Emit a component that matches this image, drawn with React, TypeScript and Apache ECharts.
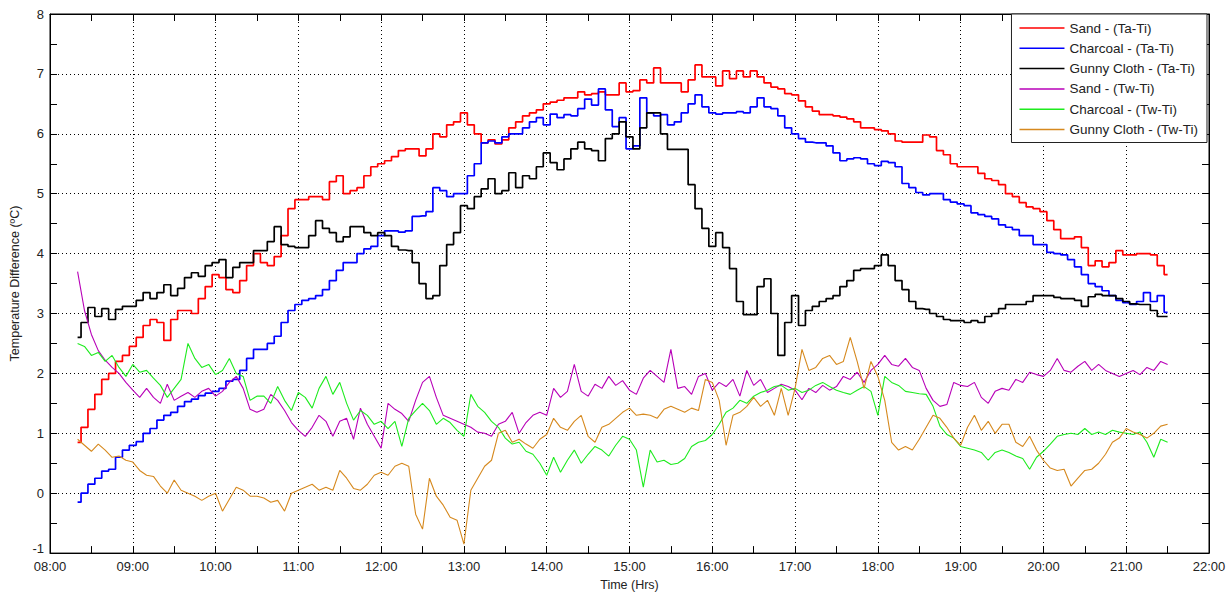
import React, { useEffect, useRef } from "react";
import * as echarts from "echarts";

// Sampling: first reading at 08:20 (minute 500 of the day), one value every 5 minutes, until 21:30
const sampleStartMin = 500;
const sampleStepMin = 5;

const seriesNames = [
  "Sand - (Ta-Ti)",
  "Charcoal - (Ta-Ti)",
  "Gunny Cloth - (Ta-Ti)",
  "Sand - (Tw-Ti)",
  "Charcoal - (Tw-Ti)",
  "Gunny Cloth - (Tw-Ti)",
];

const sandTa = [
  0.85, 1.1, 1.4, 1.65, 1.9, 2.0, 2.2, 2.3, 2.45, 2.6, 2.8, 2.9, 2.85, 2.55, 2.9, 3.05, 3.05, 3.0, 3.25, 3.45, 3.65, 3.6, 3.4, 3.35, 3.55, 3.8, 4.0,
  3.85, 3.8, 3.95, 4.3, 4.75, 4.9, 4.9, 4.95, 4.95, 4.9, 5.2, 5.3, 5.0, 5.05, 5.1, 5.3, 5.45, 5.5, 5.55, 5.62, 5.72, 5.75, 5.75, 5.63, 5.75, 6.0, 5.95, 6.15,
  6.2, 6.35, 6.15, 6.0, 5.85, 5.9, 5.83, 5.9, 6.1, 6.2, 6.3, 6.35, 6.4, 6.5, 6.53, 6.56, 6.6, 6.6, 6.7, 6.65, 6.67, 6.7, 6.65, 6.65, 6.85, 6.7, 6.72, 6.9,
  6.85, 7.1, 6.85, 6.85, 6.85, 6.7, 6.9, 7.15, 6.95, 6.95, 6.8, 7.05, 6.92, 7.05, 6.95, 7.05, 6.95, 6.85, 6.78, 6.75, 6.67, 6.65, 6.55, 6.45, 6.38, 6.32, 6.32, 6.3, 6.28,
  6.25, 6.2, 6.1, 6.1, 6.07, 6.05, 6.0, 5.88, 5.86, 5.86, 5.86, 5.98, 5.95, 5.72, 5.65, 5.5, 5.45, 5.45, 5.45, 5.34, 5.25, 5.22, 5.15, 5.0, 4.95, 4.85, 4.78, 4.75,
  4.7, 4.55, 4.4, 4.25, 4.25, 4.28, 4.1, 3.8, 3.88, 3.78, 3.85, 4.05, 3.98, 3.98, 4.0, 4.0, 3.98, 3.8, 3.65,
];

const charcoalTa = [
  -0.15, 0.0, 0.15, 0.25, 0.37, 0.4, 0.6, 0.72, 0.8, 0.86, 1.0, 1.08, 1.22, 1.3, 1.35, 1.45, 1.53, 1.57, 1.63, 1.67, 1.7, 1.75, 1.87, 1.9, 2.05, 2.25, 2.4,
  2.4, 2.5, 2.62, 2.85, 3.05, 3.15, 3.22, 3.25, 3.3, 3.4, 3.55, 3.72, 3.85, 3.85, 4.0, 4.08, 4.12, 4.3, 4.38, 4.38, 4.36, 4.38, 4.62, 4.63, 4.7, 5.1, 5.05, 4.95,
  5.0, 5.0, 5.3, 5.5, 5.85, 5.88, 5.85, 5.95, 6.0, 6.0, 6.1, 6.2, 6.27, 6.15, 6.33, 6.27, 6.32, 6.3, 6.42, 6.58, 6.48, 6.75, 6.4, 6.12, 6.27, 5.75, 5.8, 6.6,
  6.35, 6.3, 6.32, 6.15, 6.2, 6.35, 6.5, 6.65, 6.45, 6.35, 6.33, 6.35, 6.35, 6.37, 6.35, 6.45, 6.6, 6.45, 6.42, 6.3, 6.1, 6.0, 5.92, 5.86, 5.85, 5.85, 5.8, 5.68, 5.55,
  5.58, 5.6, 5.58, 5.5, 5.47, 5.54, 5.52, 5.45, 5.17, 5.1, 5.02, 4.98, 5.0, 5.0, 4.9, 4.86, 4.83, 4.8, 4.68, 4.65, 4.62, 4.58, 4.48, 4.44, 4.4, 4.3, 4.3, 4.15,
  4.15, 4.02, 4.0, 3.98, 3.9, 3.78, 3.65, 3.5, 3.45, 3.38, 3.3, 3.22, 3.18, 3.15, 3.2, 3.35, 3.2, 3.3, 3.02,
];

const gunnyTa = [
  2.6, 2.85, 3.1, 2.95, 3.08, 2.9, 3.07, 3.12, 3.12, 3.22, 3.35, 3.25, 3.35, 3.48, 3.3, 3.42, 3.6, 3.68, 3.62, 3.8, 3.85, 3.9, 3.6, 3.77, 3.85, 3.85, 4.05,
  4.05, 4.2, 4.45, 4.15, 4.12, 4.1, 4.1, 4.3, 4.55, 4.42, 4.35, 4.2, 4.28, 4.45, 4.45, 4.35, 4.3, 4.35, 4.3, 4.12, 4.06, 4.05, 3.85, 3.5, 3.25, 3.3, 3.8, 4.15,
  4.35, 4.8, 4.75, 4.95, 5.08, 5.25, 5.0, 5.05, 5.35, 5.1, 5.3, 5.25, 5.45, 5.68, 5.52, 5.4, 5.58, 5.75, 5.86, 5.75, 5.72, 5.55, 5.92, 6.0, 6.2, 5.95, 5.75, 6.1,
  6.35, 6.35, 6.0, 5.74, 5.74, 5.74, 5.15, 4.75, 4.42, 4.12, 4.35, 4.1, 3.75, 3.2, 2.98, 2.98, 3.45, 3.58, 3.0, 2.3, 2.85, 3.3, 2.8, 3.05, 3.12, 3.2, 3.25, 3.3, 3.45,
  3.55, 3.72, 3.75, 3.75, 3.8, 3.98, 3.8, 3.55, 3.4, 3.2, 3.08, 3.07, 3.0, 2.95, 2.9, 2.88, 2.88, 2.85, 2.88, 2.85, 2.95, 3.0, 3.08, 3.15, 3.15, 3.15, 3.2, 3.3,
  3.3, 3.3, 3.27, 3.25, 3.25, 3.22, 3.12, 3.28, 3.32, 3.3, 3.3, 3.25, 3.2, 3.16, 3.15, 3.15, 3.05, 2.95, 2.95,
];

const sandTw = [
  3.7, 3.05, 2.65, 2.38, 2.22, 2.1, 2.0, 1.85, 1.72, 1.6, 1.75, 1.6, 1.5, 1.82, 1.55, 1.62, 1.68, 1.6, 1.7, 1.75, 1.62, 1.7, 1.85, 1.95, 1.75, 1.4, 1.35,
  1.4, 1.65, 1.55, 1.38, 1.18, 1.05, 0.95, 1.1, 1.3, 1.2, 0.95, 1.2, 1.25, 0.9, 1.42, 1.15, 0.95, 0.75, 1.5, 1.4, 1.33, 1.2, 1.55, 1.85, 1.95, 1.6, 1.3, 1.25,
  1.2, 1.15, 1.1, 1.02, 1.0, 0.95, 1.15, 1.2, 1.35, 1.0, 1.18, 1.3, 1.35, 1.3, 1.75, 1.6, 1.7, 2.15, 1.7, 1.62, 1.82, 1.75, 1.95, 1.8, 1.88, 1.72, 1.65, 1.92,
  2.05, 1.95, 1.85, 2.4, 1.75, 1.78, 1.65, 1.95, 2.0, 1.72, 1.85, 1.78, 1.9, 1.62, 2.05, 1.8, 1.9, 1.68, 1.75, 1.82, 1.78, 1.72, 1.56, 1.75, 1.68, 1.8, 1.72, 1.78, 1.95,
  1.9, 2.02, 1.85, 2.05, 2.15, 2.3, 2.15, 2.12, 2.25, 2.1, 2.05, 1.75, 1.55, 1.45, 1.48, 1.85, 1.8, 1.78, 1.85, 1.6, 1.5, 1.7, 1.75, 1.72, 1.9, 1.85, 2.02, 1.98,
  1.95, 2.05, 2.25, 2.05, 2.02, 2.12, 2.2, 2.05, 2.15, 2.05, 2.0, 1.95, 2.0, 2.05, 1.98, 2.1, 2.05, 2.2, 2.15,
];

const charcoalTw = [
  2.5, 2.45, 2.3, 2.35, 2.2, 2.3, 2.1, 1.95, 2.15, 2.02, 2.05, 1.92, 1.8, 1.6, 1.75, 1.9, 2.5, 2.25, 2.1, 2.15, 1.98, 2.05, 2.25, 2.0, 1.95, 1.55, 1.62,
  1.62, 1.5, 1.78, 1.55, 1.38, 1.68, 1.6, 1.42, 1.75, 1.95, 1.65, 1.85, 1.5, 1.22, 1.38, 1.3, 1.15, 1.2, 1.08, 1.2, 0.78, 1.25, 1.38, 1.5, 1.38, 1.15, 1.25, 1.18,
  1.05, 0.95, 1.65, 1.45, 1.35, 1.2, 1.1, 0.92, 0.82, 0.85, 0.7, 0.65, 0.5, 0.3, 0.6, 0.35, 0.55, 0.72, 0.5, 0.65, 0.78, 0.72, 0.62, 0.8, 0.95, 0.9, 0.72, 0.1,
  0.72, 0.52, 0.55, 0.48, 0.5, 0.58, 0.78, 0.85, 0.88, 0.98, 1.15, 1.35, 1.42, 1.55, 1.5, 1.62, 1.68, 1.72, 1.78, 1.8, 1.72, 1.75, 1.68, 1.72, 1.8, 1.85, 1.78, 1.72, 1.68,
  1.65, 1.72, 1.78, 1.7, 1.3, 1.95, 1.85, 1.8, 1.7, 1.68, 1.66, 1.65, 1.45, 1.12, 0.98, 0.92, 0.78, 0.75, 0.72, 0.68, 0.55, 0.68, 0.72, 0.68, 0.62, 0.58, 0.4, 0.6,
  0.7, 0.82, 0.95, 0.98, 1.0, 0.98, 1.08, 0.98, 1.02, 0.98, 1.05, 1.02, 1.0, 0.98, 1.02, 0.85, 0.6, 0.9, 0.85,
];

const gunnyTw = [
  0.9, 0.8, 0.7, 0.82, 0.72, 0.6, 0.62, 0.55, 0.52, 0.38, 0.3, 0.28, 0.12, 0.0, 0.22, 0.05, 0.0, -0.05, -0.12, -0.05, 0.0, -0.3, -0.1, 0.1, 0.05, -0.05, -0.05,
  -0.08, -0.15, -0.12, -0.3, 0.0, 0.05, 0.1, 0.15, 0.05, 0.1, 0.05, 0.38, 0.25, 0.08, 0.05, 0.15, 0.3, 0.35, 0.3, 0.45, 0.5, 0.45, -0.35, -0.6, 0.25, -0.05, -0.2, -0.4,
  -0.45, -0.85, 0.05, 0.25, 0.45, 0.55, 1.0, 1.05, 0.85, 0.9, 0.82, 0.75, 0.9, 0.98, 1.25, 1.1, 1.05, 1.2, 1.3, 0.95, 0.85, 1.1, 1.15, 1.25, 1.35, 1.42, 1.3, 1.32,
  1.3, 1.25, 1.4, 1.45, 1.4, 1.35, 1.42, 1.38, 1.9, 1.85, 1.55, 0.8, 1.3, 1.35, 1.45, 1.6, 1.45, 1.55, 1.3, 1.75, 1.3, 1.75, 2.4, 2.05, 2.1, 2.25, 2.3, 2.15, 2.2,
  2.6, 2.2, 1.75, 2.2, 1.95, 1.55, 0.85, 0.72, 0.78, 0.72, 0.9, 1.1, 1.3, 1.25, 1.1, 0.92, 0.8, 1.1, 1.3, 1.05, 1.2, 1.0, 1.15, 1.15, 0.85, 0.78, 0.95, 0.72,
  0.55, 0.42, 0.38, 0.4, 0.12, 0.25, 0.38, 0.4, 0.5, 0.65, 0.85, 0.92, 1.08, 1.02, 0.98, 0.92, 1.0, 1.12, 1.15,
];

const seriesValues = [sandTa, charcoalTa, gunnyTa, sandTw, charcoalTw, gunnyTw];
const seriesColors = ["#FF0000", "#0000FF", "#000000", "#B800B8", "#1EEB1E", "#D6891E"];
const seriesIsStep = [true, true, true, false, false, false];

const xMin = 480; // 08:00
const xMax = 1320; // 22:00
const xInterval = 60;
const yMin = -1;
const yMax = 8;
const yInterval = 1;

const FONT = "'Liberation Sans', Arial, sans-serif";

function hhmm(v: number): string {
  const h = Math.floor(v / 60);
  const m = Math.round(v - h * 60);
  return String(h).padStart(2, "0") + ":" + String(m).padStart(2, "0");
}

export default function App() {
  const ref = useRef<HTMLDivElement | null>(null);

  useEffect(() => {
    if (!ref.current) return;
    const chart = echarts.init(ref.current, undefined, { renderer: "svg" });

    const tickCommon = {
      axisLine: { show: true, onZero: false, lineStyle: { color: "#000", width: 1 } },
      axisTick: { show: true, inside: true, length: 7, lineStyle: { color: "#000", width: 1 } },
      minorTick: { show: true, splitNumber: 2, length: 7, lineStyle: { color: "#000", width: 1 } },
    };

    const series = seriesValues.map((vals, si) => ({
      name: seriesNames[si],
      type: "line",
      xAxisIndex: 0,
      yAxisIndex: 0,
      data: vals.map((v, i) => [sampleStartMin + i * sampleStepMin, v]),
      showSymbol: false,
      symbol: "none",
      step: seriesIsStep[si] ? "middle" : false,
      lineStyle: { color: seriesColors[si], width: seriesIsStep[si] ? 1.7 : 1.1 },
      itemStyle: { color: seriesColors[si] },
      emphasis: { disabled: true },
    }));

    chart.setOption({
      animation: false,
      backgroundColor: "#ffffff",
      textStyle: { fontFamily: FONT },
      grid: {
        left: 50,
        right: 23,
        top: 14,
        bottom: 39,
        show: true,
        borderColor: "#000",
        borderWidth: 1,
        backgroundColor: "#fff",
      },
      legend: {
        data: seriesNames,
        orient: "vertical",
        right: 25,
        top: 14,
        padding: [7, 9, 6, 8],
        itemGap: 6.3,
        itemWidth: 45,
        itemHeight: 1.5,
        icon: "rect",
        backgroundColor: "#fff",
        borderColor: "#222",
        borderWidth: 1,
        borderRadius: 0,
        selectedMode: false,
        textStyle: { fontFamily: FONT, fontSize: 13.5, color: "#222", lineHeight: 14 },
      },
      xAxis: [
        {
          type: "value",
          position: "bottom",
          min: xMin,
          max: xMax,
          interval: xInterval,
          ...tickCommon,
          axisLabel: {
            formatter: (v: number) => hhmm(v),
            color: "#222",
            fontSize: 13,
            margin: 7,
            fontFamily: FONT,
          },
          splitLine: { show: true, lineStyle: { color: "#000", type: [1, 3], width: 1 } },
          name: "Time (Hrs)",
          nameLocation: "middle",
          nameGap: 22,
          nameTextStyle: { fontSize: 12.5, color: "#222", fontFamily: FONT },
        },
        {
          type: "value",
          position: "top",
          min: xMin,
          max: xMax,
          interval: xInterval,
          ...tickCommon,
          axisLabel: { show: false },
          splitLine: { show: false },
        },
      ],
      yAxis: [
        {
          type: "value",
          position: "left",
          min: yMin,
          max: yMax,
          interval: yInterval,
          ...tickCommon,
          axisLabel: {
            color: "#222",
            fontSize: 13,
            margin: 6,
            fontFamily: FONT,
            formatter: (v: number) => (v === yMin ? "{low|" + v + "}" : String(v)),
            rich: { low: { fontSize: 13, color: "#222", fontFamily: FONT, padding: [0, 0, 9, 0] } },
          },
          splitLine: { show: true, lineStyle: { color: "#000", type: [1, 3], width: 1 } },
          name: "Temperature Difference (ºC)",
          nameLocation: "middle",
          nameGap: 25,
          nameTextStyle: { fontSize: 12.5, color: "#222", fontFamily: FONT },
        },
        {
          type: "value",
          position: "right",
          min: yMin,
          max: yMax,
          interval: yInterval,
          ...tickCommon,
          axisLabel: { show: false },
          splitLine: { show: false },
        },
      ],
      series,
    });

    return () => {
      chart.dispose();
    };
  }, []);

  return (
    <div
      ref={ref}
      style={{ position: "absolute", left: 0, top: 0, width: 1232, height: 596, background: "#fff" }}
    />
  );
}
